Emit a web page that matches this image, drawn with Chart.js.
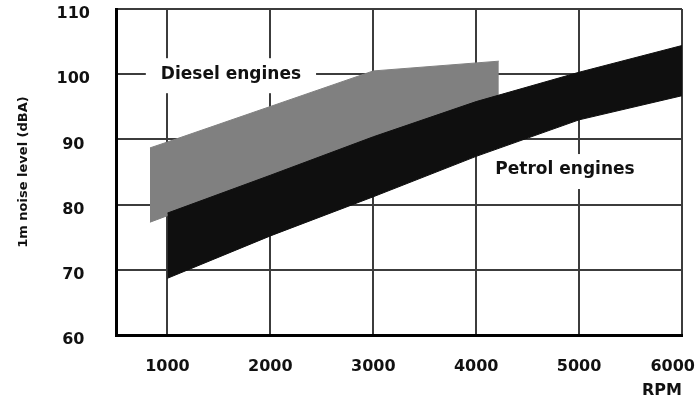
<!DOCTYPE html>
<html>
<head>
<meta charset="utf-8">
<script src="https://cdn.jsdelivr.net/npm/chart.js@4.4.0/dist/chart.umd.min.js"></script>
<style>
  html, body { margin: 0; padding: 0; background: #fff; }
  #wrap { width: 699px; height: 400px; }
</style>
</head>
<body>
<div id="wrap"><canvas id="noise"></canvas></div>
<script>
// values
const petrolRpm = [1000, 2000, 3000, 4000, 5000, 6000];
const petrolHigh = [78.7, 84.5, 90.4, 95.8, 100.3, 104.4];
const petrolLow = [68.7, 75.2, 81.2, 87.4, 93.0, 96.7];

const dieselRpm = [830, 1000, 3000, 4220];
const dieselHigh = [88.7, 89.6, 100.5, 102.0];
const dieselLow = [77.3, 78.3, 87.6, 93.0];

const xTicks = [1000, 2000, 3000, 4000, 5000, 6000];
const xTickLabels = ["1000", "2000", "3000", "4000", "5000", "6000"];
const yTicks = [60, 70, 80, 90, 100, 110];

const noteText = ["Diesel engines", "Petrol engines"];
const noteRpm = [1617, 4863];
const noteDb = [100.0, 85.3];

const FONT = '"DejaVu Sans", sans-serif';

function points(xs, ys) {
  return xs.map((x, i) => ({ x: x, y: ys[i] }));
}

// white boxed notes under the bands, tick labels kept inside the canvas
const notesPlugin = {
  id: "notes",
  beforeDatasetsDraw(chart) {
    const ctx = chart.ctx;
    const x = chart.scales.x, y = chart.scales.y;
    ctx.save();
    ctx.font = "bold 17px " + FONT;
    ctx.textAlign = "center";
    ctx.textBaseline = "middle";
    noteText.forEach((t, i) => {
      const px = x.getPixelForValue(noteRpm[i]);
      const py = y.getPixelForValue(noteDb[i]);
      const w = ctx.measureText(t).width;
      ctx.fillStyle = "#fff";
      ctx.fillRect(px - w / 2 - 15, py - 16, w + 30, 35);
      ctx.fillStyle = "#111";
      ctx.fillText(t, px, py);
    });
    ctx.restore();
  },
  afterDraw(chart) {
    const ctx = chart.ctx;
    const x = chart.scales.x;
    ctx.save();
    ctx.font = "bold 16px " + FONT;
    ctx.textAlign = "center";
    ctx.textBaseline = "middle";
    ctx.fillStyle = "#111";
    xTicks.forEach((v, i) => {
      const w = ctx.measureText(xTickLabels[i]).width;
      let px = x.getPixelForValue(v);
      px = Math.min(px, chart.width - 4 - w / 2);
      ctx.fillText(xTickLabels[i], px, x.top + 32);
    });
    ctx.restore();
  }
};

const ctx = document.getElementById("noise").getContext("2d");
new Chart(ctx, {
  type: "line",
  data: {
    datasets: [
      {
        label: "Petrol engines",
        data: points(petrolRpm, petrolHigh),
        fill: 1,
        backgroundColor: "#0f0f0f",
        borderColor: "#0f0f0f",
        borderWidth: 1,
        pointRadius: 0,
        tension: 0
      },
      {
        label: "Petrol low",
        data: points(petrolRpm, petrolLow),
        fill: false,
        borderColor: "#0f0f0f",
        borderWidth: 1,
        pointRadius: 0,
        tension: 0
      },
      {
        label: "Diesel engines",
        data: points(dieselRpm, dieselHigh),
        fill: 3,
        backgroundColor: "#808080",
        borderColor: "#808080",
        borderWidth: 1,
        pointRadius: 0,
        tension: 0
      },
      {
        label: "Diesel low",
        data: points(dieselRpm, dieselLow),
        fill: false,
        borderColor: "#808080",
        borderWidth: 1,
        pointRadius: 0,
        tension: 0
      }
    ]
  },
  options: {
    responsive: true,
    maintainAspectRatio: false,
    animation: false,
    layout: { padding: { top: 9, right: 17, left: 0, bottom: 0 } },
    plugins: {
      legend: { display: false },
      tooltip: { enabled: false }
    },
    scales: {
      x: {
        type: "linear",
        min: 500,
        max: 6000,
        afterBuildTicks: (scale) => { scale.ticks = xTicks.map(v => ({ value: v })); },
        afterFit: (scale) => {
          scale.height = 65;
          scale.paddingLeft = 0;
          scale.paddingRight = 0;
        },
        ticks: { display: false },
        grid: { color: "#3c3c3c", lineWidth: 2, drawTicks: false },
        border: { display: true, color: "#000", width: 3 },
        title: {
          display: true,
          text: "RPM",
          align: "end",
          color: "#111",
          font: { family: FONT, size: 16, weight: "bold" },
          padding: 0
        }
      },
      y: {
        min: 60,
        max: 110,
        afterBuildTicks: (scale) => { scale.ticks = yTicks.map(v => ({ value: v })); },
        afterFit: (scale) => {
          scale.width = 116;
          scale.paddingTop = 0;
          scale.paddingBottom = 0;
        },
        ticks: {
          crossAlign: "center",
          padding: 26,
          labelOffset: 5,
          color: "#111",
          font: { family: FONT, size: 16, weight: "bold" }
        },
        grid: { color: "#3c3c3c", lineWidth: 2, drawTicks: false },
        border: { display: true, color: "#000", width: 3 },
        title: {
          display: true,
          text: "1m noise level (dBA)",
          color: "#111",
          font: { family: FONT, size: 13, weight: "bold" },
          padding: { top: 16, bottom: 0 }
        }
      }
    }
  },
  plugins: [notesPlugin]
});
</script>
</body>
</html>
